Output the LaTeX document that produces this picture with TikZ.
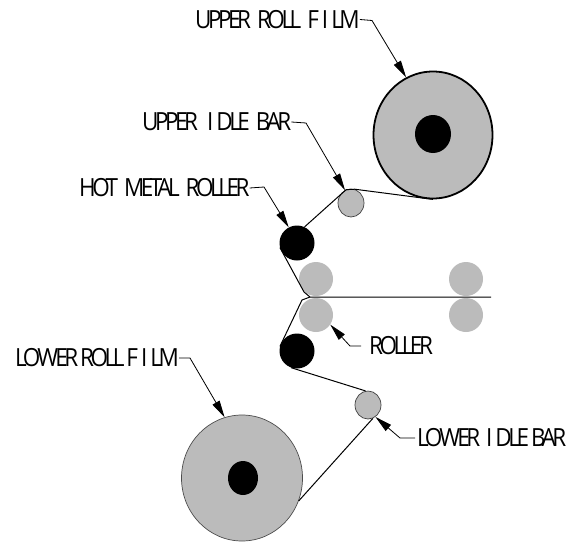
\documentclass[tikz,border=0pt]{standalone}
\usepackage{fontspec}
\usepackage{tikz}
\usetikzlibrary{arrows.meta,shapes.geometric}
\newfontfamily\lblfont[LetterSpace=-14,FakeStretch=0.9]{Open Sans}
\definecolor{rollgray}{HTML}{BBBBBB}
\newcommand{\gp}{\kern3pt}
\newcommand{\wg}{\kern6pt}
\newcommand{\nrw}{\kern2pt}
\newcommand{\lowr}{LO\kern-3pt W\kern-3pt ER}
\tikzset{
  x=1pt,y=-1pt,
  lbl/.style={font=\lblfont\fontsize{25}{26}\selectfont,inner sep=0pt,anchor=west,text=black},
  disc/.style={ellipse,inner sep=0pt,minimum width=#1,minimum height=#1},
  grayroll/.style={disc=34,fill=rollgray},
  hotroll/.style={disc=35,fill=black},
  idlebar/.style={ellipse,inner sep=0pt,minimum width=26,minimum height=28,fill=rollgray,draw=black!75,line width=.7pt},
  film/.style={draw=black,line width=1pt,line join=round},
  leader/.style={draw=black,line width=.8pt,-{Triangle[length=17pt,width=8pt]}},
}
\begin{document}
\begin{tikzpicture}
\useasboundingbox (0,0) rectangle (569,543);
% rolls
\node[ellipse,inner sep=0pt,minimum width=119,minimum height=127,fill=rollgray,draw=black,line width=1.8pt] (upperroll) at (433,135) {};
\node[ellipse,inner sep=0pt,minimum width=36,minimum height=38,fill=black] (upperhub) at (433,134) {};
\node[ellipse,inner sep=0pt,minimum width=121,minimum height=126,fill=rollgray,draw=black!70,line width=.7pt] (lowerroll) at (242,478) {};
\node[ellipse,inner sep=0pt,minimum width=30,minimum height=34,fill=black] (lowerhub) at (243,478) {};
\node[idlebar] (upperidle) at (351,203) {};
\node[idlebar] (loweridle) at (368,405) {};
\node[hotroll] (upperhot) at (297,243) {};
\node[hotroll] (lowerhot) at (297,351) {};
\node[grayroll] (r1) at (316,279) {};
\node[grayroll] (r2) at (316,315) {};
\node[grayroll] (r3) at (466,279) {};
\node[grayroll] (r4) at (466,315) {};
\coordinate (filmend) at (491,297);
\coordinate (nip) at (310,297);
% film
\draw[film] (upperroll.-90) -- (upperidle.75) -- (upperidle.110) -- (upperhot.65);
\draw[film] (upperhot.195) -- (304,292) -- (nip) -- (filmend);
\draw[film] (nip) -- (302,300) -- (lowerhot.165);
\draw[film] (lowerhot.-110) -- (loweridle.100);
\draw[film] (loweridle.-70) -- (lowerroll.-22);
% labels
\node[lbl] (l1) at (195,19.5) {UPPER\wg ROLL\wg F\gp I\gp LM};
\node[lbl] (l2) at (142,122) {UPPER\wg\gp I\gp DLE\wg BAR};
\node[lbl] (l3) at (79,188) {HOT\wg METAL\wg ROLLER};
\node[lbl] (l4) at (369,346) {ROLLER};
\node[lbl] (l5) at (15,358) {\lowr\nrw ROLL\nrw F\gp I\gp LM};
\node[lbl] (l6) at (417,438) {\lowr\wg I\gp DLE\nrw BAR};
% leaders
\coordinate (b1) at (372,20.5);
\coordinate (b2) at (306,123);
\coordinate (b3) at (264,187);
\coordinate (b4) at (350,346);
\coordinate (b5) at (190,358);
\coordinate (b6) at (400,438);
\draw[leader] (l1.east) -- (b1) -- (upperroll.115);
\draw[leader] (l2.east) -- (b2) -- (upperidle.115);
\draw[leader] (l3.east) -- (b3) -- (upperhot.118);
\draw[leader] (l4.west) ++(-8,0) -- (b4) -- (r2.-34);
\draw[leader] (l5.east) -- (b5) -- (lowerroll.106);
\draw[leader] (l6.west) ++(-2,0) -- (b6) -- (loweridle.-58);
\end{tikzpicture}
\end{document}
